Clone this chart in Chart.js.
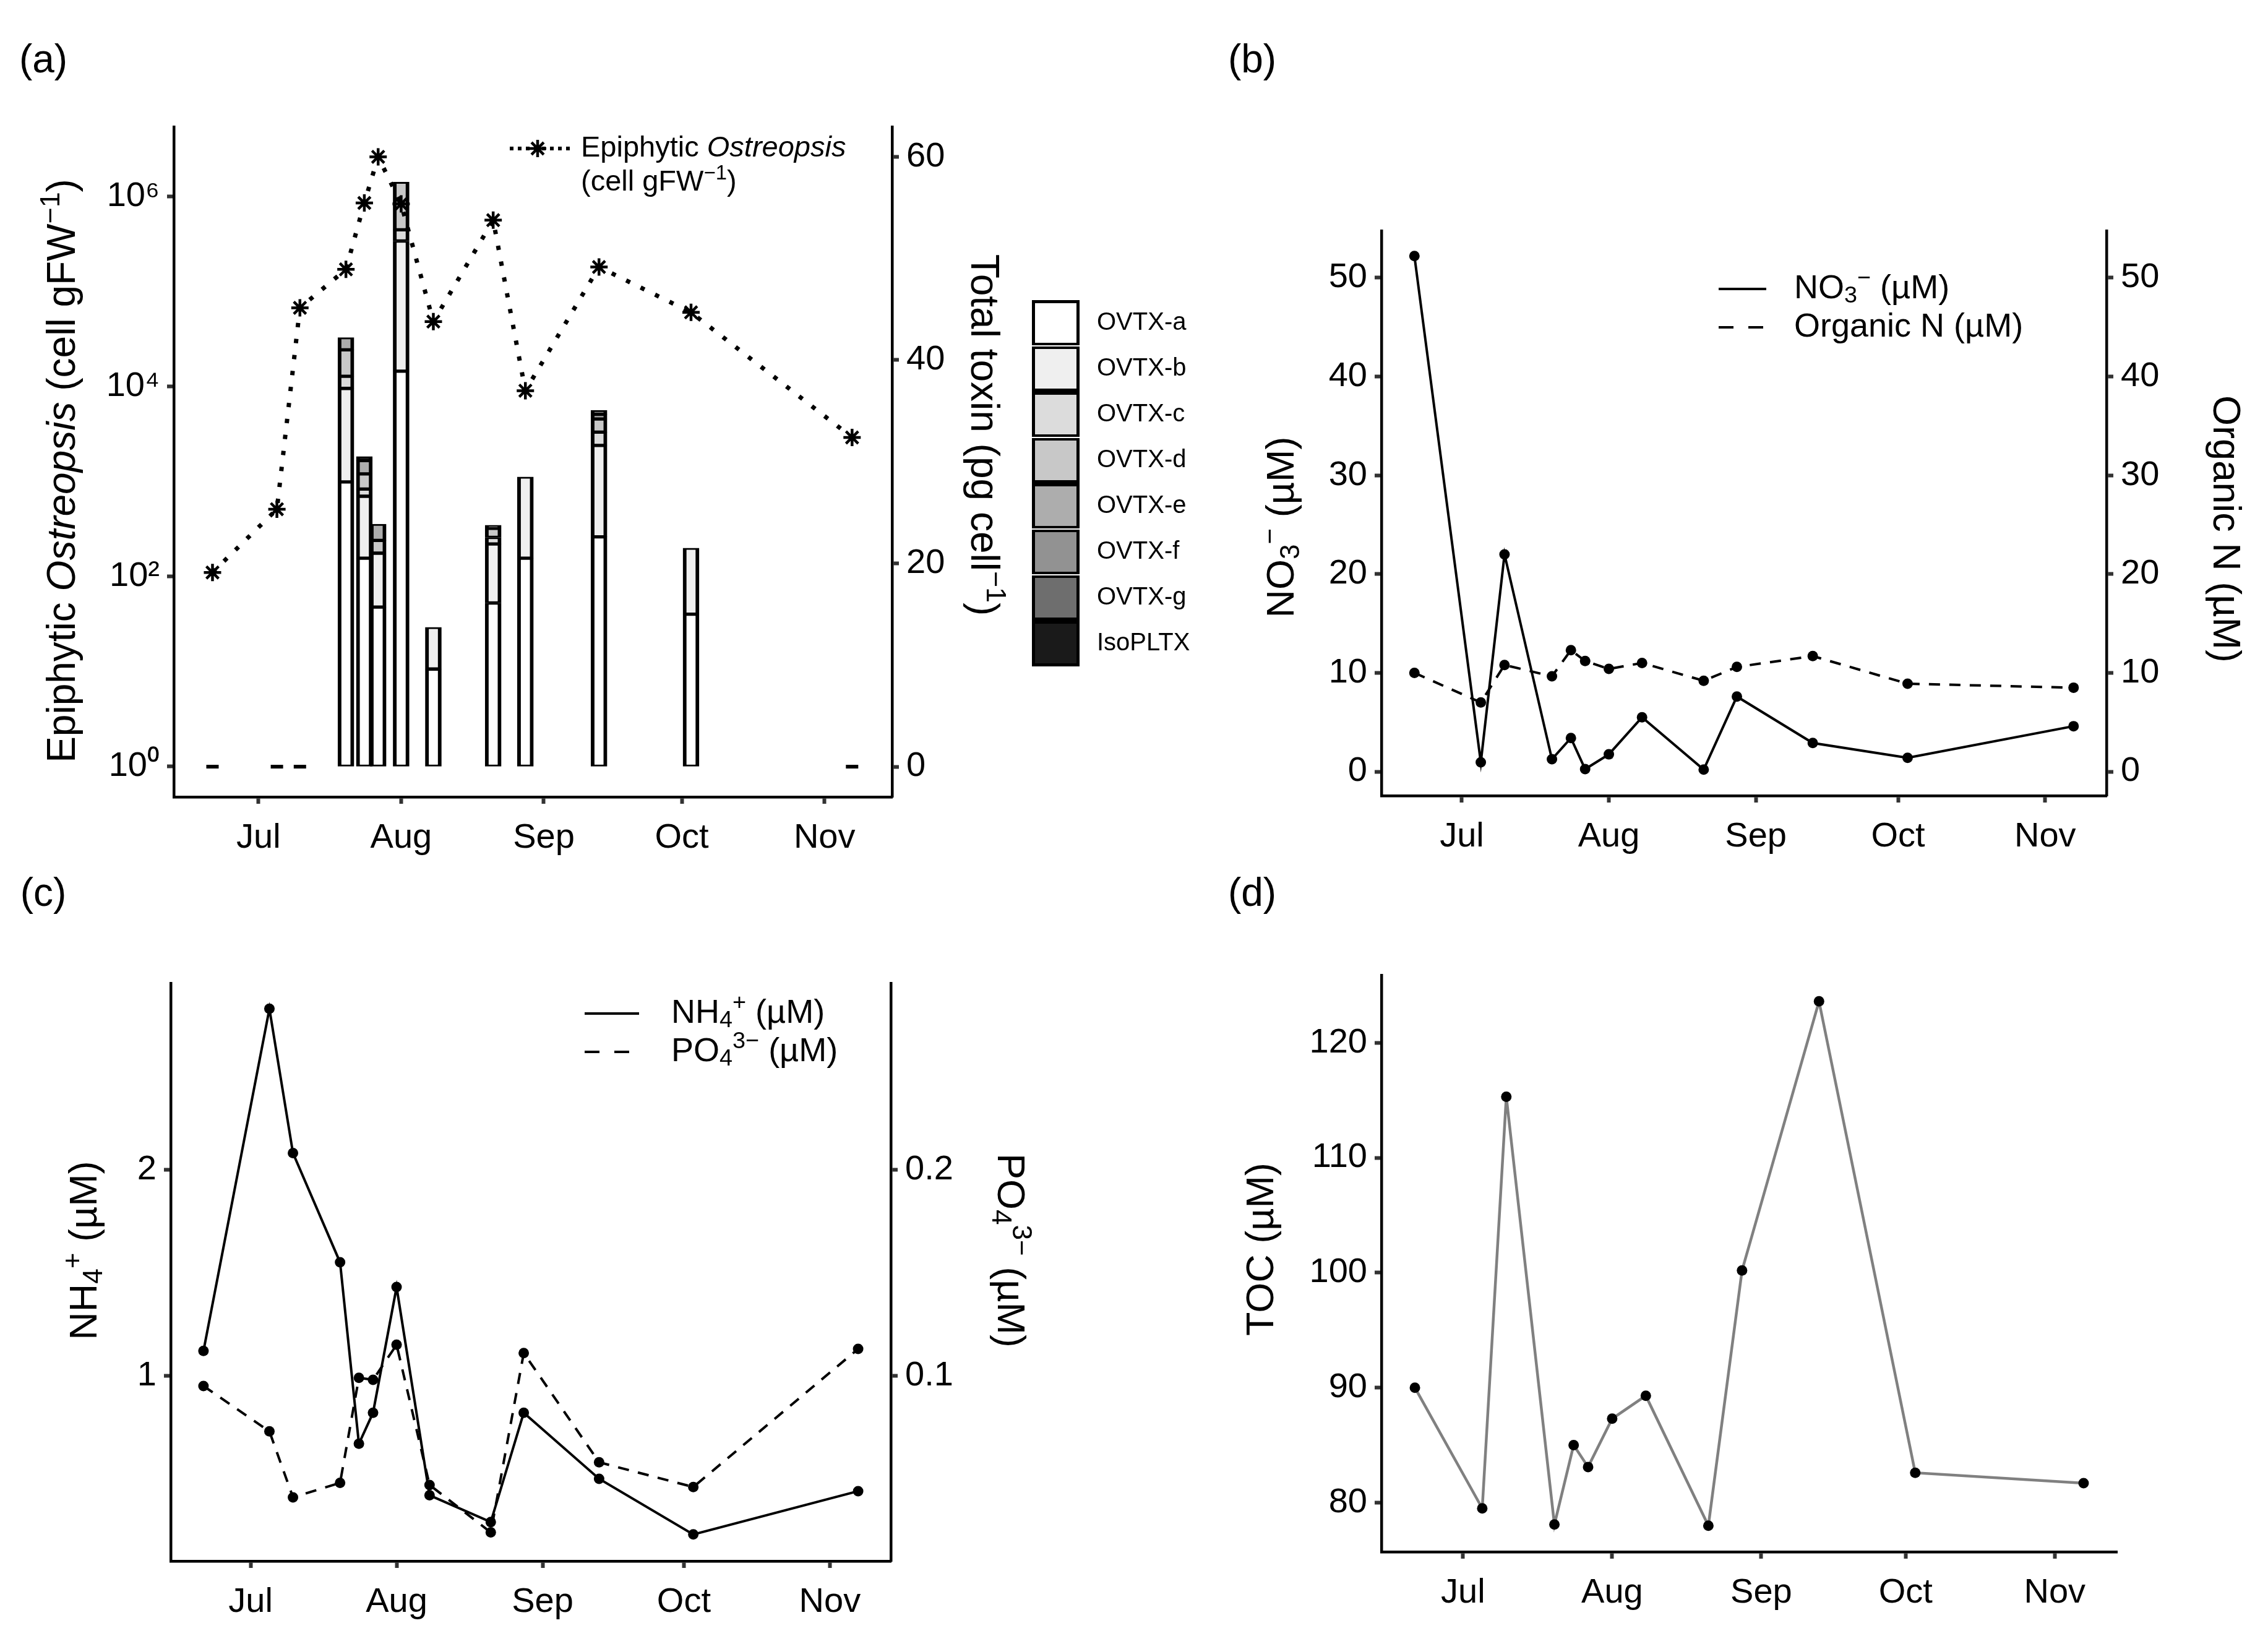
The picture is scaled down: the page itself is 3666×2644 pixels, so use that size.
<!DOCTYPE html>
<html>
<head>
<meta charset="utf-8">
<script src="https://cdn.jsdelivr.net/npm/chart.js@4.4.1/dist/chart.umd.min.js"></script>
<style>
  html, body { margin: 0; padding: 0; background: #fff; }
  body { position: relative; width: 3666px; height: 2644px; overflow: hidden; font-family: 'Liberation Sans', Arial, sans-serif; }
  canvas { position: absolute; }
  .tag { position: absolute; font-size: 64px; line-height: 1; transform: translate(-50%, -50%); color: #000; }
</style>
</head>
<body>
<div class="tag" style="left:70px;top:95px">(a)</div>
<div class="tag" style="left:2024px;top:95px">(b)</div>
<div class="tag" style="left:70px;top:1442px">(c)</div>
<div class="tag" style="left:2024px;top:1442px">(d)</div>
<canvas id="chartA" width="2000" height="1405" style="left:0;top:0;width:2000px;height:1405px"></canvas>
<canvas id="chartB" width="1666" height="1405" style="left:2000px;top:0;width:1666px;height:1405px"></canvas>
<canvas id="chartC" width="2000" height="1239" style="left:0;top:1405px;width:2000px;height:1239px"></canvas>
<canvas id="chartD" width="1666" height="1239" style="left:2000px;top:1405px;width:1666px;height:1239px"></canvas>
<script>
// sampling dates, as days counted from 1 July
const sampleDays = [-10, 4, 9, 19, 23, 26, 31, 38, 51, 58, 74, 94, 129];
const monthDays = [0, 31, 62, 92, 123];
const monthLabels = ['Jul', 'Aug', 'Sep', 'Oct', 'Nov'];

// (a) epiphytic Ostreopsis (cell gFW-1) and toxin profile (pg cell-1)
const ostreopsisCells = [110, 510, 67000, 170000, 850000, 2600000, 830000, 48000, 560000, 9000, 180000, 60000, 2900];
const toxinNames = ['OVTX-a', 'OVTX-b', 'OVTX-c', 'OVTX-d', 'OVTX-e', 'OVTX-f', 'OVTX-g', 'IsoPLTX'];
const ovtxA = [0, 0, 0, 28.0, 20.5, 15.7, 38.9, 9.6, 16.1, 20.5, 22.6, 15.0, 0];
const ovtxB = [0, 0, 0, 9.2, 6.1, 5.3, 12.8, 4.1, 5.8, 8.0, 9.0, 6.5, 0];
const ovtxC = [0, 0, 0, 1.2, 0.7, 0, 1.1, 0, 0.65, 0, 1.3, 0, 0];
const ovtxD = [0, 0, 0, 2.6, 1.5, 1.25, 4.7, 0, 0.9, 0, 1.3, 0, 0];
const ovtxE = [0, 0, 0, 1.2, 1.3, 1.6, 0, 0, 0.3, 0, 0.45, 0, 0];
const ovtxF = [0, 0, 0, 0, 0, 0, 0, 0, 0, 0, 0.4, 0, 0];
const ovtxG = [0, 0, 0, 0, 0, 0, 0, 0, 0, 0, 0, 0, 0];
const isoPLTX = [0, 0, 0, 0, 0.4, 0, 0, 0, 0, 0, 0, 0, 0];
const cellTicks = [1, 100, 10000, 1000000];
const toxinTicks = [0, 20, 40, 60];

// (b) nitrate and organic N (uM)
const nitrate = [52.2, 0.94, 22.0, 1.25, 3.4, 0.25, 1.75, 5.5, 0.2, 7.6, 2.9, 1.4, 4.6];
const organicN = [10.0, 7.0, 10.8, 9.65, 12.3, 11.2, 10.4, 11.0, 9.2, 10.6, 11.7, 8.9, 8.5];
const nTicks = [0, 10, 20, 30, 40, 50];

// (c) ammonium and phosphate (uM)
const ammonium = [1.12, 2.78, 2.08, 1.55, 0.67, 0.82, 1.43, 0.42, 0.29, 0.82, 0.50, 0.23, 0.44];
const phosphate = [0.095, 0.073, 0.041, 0.048, 0.099, 0.098, 0.115, 0.047, 0.024, 0.111, 0.058, 0.046, 0.113];
const nh4Ticks = [1, 2];
const po4Ticks = [0.1, 0.2];

// (d) TOC (uM)
const toc = [90.0, 79.5, 115.3, 78.1, 85.0, 83.1, 87.3, 89.3, 78.0, 100.2, 123.6, 82.6, 81.7];
const tocTicks = [80, 90, 100, 110, 120];

const toxinSeries = [ovtxA, ovtxB, ovtxC, ovtxD, ovtxE, ovtxF, ovtxG, isoPLTX];
const toxinColors = ['#ffffff', '#efefef', '#dcdcdc', '#c8c8c8', '#adadad', '#929292', '#6e6e6e', '#1a1a1a'];

const FONT = "'Liberation Sans', Arial, sans-serif";
Chart.defaults.font.family = FONT;
Chart.defaults.color = '#000';

function xy(days, vals) {
    return days.map((d, i) => ({ x: d, y: vals[i] }));
}
function useTicks(values) {
    return s => { s.ticks = values.map(v => ({ value: v })); };
}
const tickGrid = { display: true, offset: false, drawOnChartArea: false, drawTicks: true, tickLength: 11, tickWidth: 6, tickColor: '#333' };
const axisLine = { display: true, color: '#000', width: 4.5 };

function xAxis(min, max, height) {
    return {
        type: 'linear', position: 'bottom', min: min, max: max, offset: false, stacked: true,
        afterBuildTicks: useTicks(monthDays),
        afterFit: s => { s.height = height; },
        ticks: { autoSkip: false, maxRotation: 0, padding: 22, font: { size: 56 }, callback: (v, i) => monthLabels[i] },
        grid: tickGrid, border: axisLine
    };
}
function yAxis(position, min, max, tickValues, width, extra) {
    return Object.assign({
        type: 'linear', position: position, min: min, max: max,
        afterBuildTicks: useTicks(tickValues),
        afterFit: s => { s.width = width; },
        ticks: { autoSkip: false, padding: 12, font: { size: 56 }, callback: v => String(v) },
        grid: tickGrid, border: axisLine
    }, extra || {});
}
function baseOptions(top, padRight, scales) {
    return {
        responsive: false, animation: false, devicePixelRatio: 1,
        layout: { padding: { top: top, left: 0, right: padRight, bottom: 0 } },
        plugins: { legend: { display: false }, tooltip: { enabled: false } },
        scales: scales
    };
}

// text with italic / sub / sup runs, drawn centred or left aligned
function runFont(style, size) {
    const s = (style === 'sub' || style === 'sup') ? size * 0.7 : size;
    return (style === 'i' ? 'italic ' : '') + s + 'px ' + FONT;
}
function drawRuns(ctx, runs, x, y, size, rot, align) {
    ctx.save();
    ctx.translate(x, y);
    ctx.rotate(rot);
    ctx.textBaseline = 'middle';
    ctx.textAlign = 'left';
    ctx.fillStyle = '#000';
    const widths = runs.map(r => { ctx.font = runFont(r[1], size); return ctx.measureText(r[0]).width; });
    const total = widths.reduce((a, b) => a + b, 0);
    let cx = align === 'center' ? -total / 2 : 0;
    runs.forEach((r, i) => {
        ctx.font = runFont(r[1], size);
        const dy = r[1] === 'sub' ? size * 0.22 : (r[1] === 'sup' ? -size * 0.3 : 0);
        ctx.fillText(r[0], cx, dy);
        cx += widths[i];
    });
    ctx.restore();
}
function lineSample(ctx, x0, x1, y, dash, width) {
    ctx.save();
    ctx.strokeStyle = '#000';
    ctx.lineWidth = width;
    ctx.setLineDash(dash);
    ctx.beginPath();
    ctx.moveTo(x0, y);
    ctx.lineTo(x1, y);
    ctx.stroke();
    ctx.restore();
}
const UP = -Math.PI / 2, DOWN = Math.PI / 2;
const muM = [' (µM)', ''];
const dotR = 8.5;

// ---------- (a) ----------
const zeroDays = sampleDays.filter((d, i) => toxinSeries.every(s => s[i] === 0));
const toxinSets = toxinSeries.map((vals, k) => ({
    type: 'bar', label: toxinNames[k], yAxisID: 'yR', order: 1,
    data: xy(sampleDays, vals).filter(p => p.y > 0),
    backgroundColor: toxinColors[k], borderColor: '#000',
    borderWidth: { top: 3, bottom: 3, left: 6, right: 6 }, borderSkipped: false,
    barThickness: 26
}));

new Chart(document.getElementById('chartA'), {
    type: 'bar',
    data: {
        datasets: [{
            type: 'line', label: 'Epiphytic Ostreopsis', yAxisID: 'yL', order: 0,
            data: xy(sampleDays, ostreopsisCells),
            borderColor: '#000', borderWidth: 7, borderDash: [7, 19], borderCapStyle: 'butt',
            pointStyle: 'star', pointRadius: 14, pointBorderWidth: 4.5,
            pointBorderColor: '#000', pointBackgroundColor: '#000', tension: 0
        }, {
            type: 'line', label: 'no toxin', yAxisID: 'yR', order: 0,
            data: zeroDays.map(d => ({ x: d, y: 0 })), showLine: false,
            pointStyle: 'line', pointRadius: 10, pointBorderWidth: 6, pointBorderColor: '#000'
        }].concat(toxinSets)
    },
    options: baseOptions(205, 0, {
        x: xAxis(-18.4, 137.7, 1405 - 1288),
        yL: yAxis('left', Math.pow(10, -0.32), Math.pow(10, 6.73), cellTicks, 281, {
            type: 'logarithmic',
            ticks: { autoSkip: false, padding: 12, font: { size: 56 },
                callback: v => '10' + { 0: '⁰', 2: '²', 4: '⁴', 6: '⁶' }[Math.round(Math.log10(v))] }
        }),
        yR: yAxis('right', -2.98, 62.93, toxinTicks, 2000 - 1442, { stacked: true })
    }),
    plugins: [{
        id: 'decorA',
        afterDraw(chart) {
            const ctx = chart.ctx;
            drawRuns(ctx, [['Epiphytic ', ''], ['Ostreopsis', 'i'], [' (cell gFW', ''], ['−1', 'sup'], [')', '']], 103, 761, 64, UP, 'center');
            drawRuns(ctx, [['Total toxin (pg cell', ''], ['−1', 'sup'], [')', '']], 1588, 703, 64, DOWN, 'center');
            // series key
            lineSample(ctx, 824, 927, 240, [6, 7], 6);
            ctx.save();
            ctx.strokeStyle = '#000';
            ctx.lineWidth = 4.5;
            for (let a = 0; a < 4; a++) {
                const ang = a * Math.PI / 4;
                ctx.beginPath();
                ctx.moveTo(869 - 14 * Math.cos(ang), 240 - 14 * Math.sin(ang));
                ctx.lineTo(869 + 14 * Math.cos(ang), 240 + 14 * Math.sin(ang));
                ctx.stroke();
            }
            ctx.restore();
            drawRuns(ctx, [['Epiphytic ', ''], ['Ostreopsis', 'i']], 939, 240, 47, 0, 'left');
            drawRuns(ctx, [['(cell gFW', ''], ['−1', 'sup'], [')', '']], 939, 295, 47, 0, 'left');
            // toxin key
            const kx = 1668, ky = 485, kw = 77, kh = 74;
            toxinNames.forEach((name, k) => {
                const y0 = ky + k * kh;
                ctx.fillStyle = toxinColors[k];
                ctx.fillRect(kx, y0, kw, kh);
                ctx.strokeStyle = '#000';
                ctx.lineWidth = 5;
                ctx.strokeRect(kx + 2.5, y0 + 2.5, kw - 5, kh - 5);
                drawRuns(ctx, [[name, '']], 1773, y0 + kh / 2, 40, 0, 'left');
            });
            ctx.fillStyle = '#fff';
            [1, 3, 5, 6].forEach(k => ctx.fillRect(kx, ky + k * kh - 1, kw, 2));
        }
    }]
});

// ---------- (b) ----------
new Chart(document.getElementById('chartB'), {
    type: 'line',
    data: {
        datasets: [{
            label: 'NO3', yAxisID: 'yL', data: xy(sampleDays, nitrate),
            borderColor: '#000', borderWidth: 4, pointRadius: dotR, pointBorderWidth: 0,
            pointBackgroundColor: '#000', tension: 0
        }, {
            label: 'Organic N', yAxisID: 'yR', data: xy(sampleDays, organicN),
            borderColor: '#000', borderWidth: 4, borderDash: [18, 15], pointRadius: dotR, pointBorderWidth: 0,
            pointBackgroundColor: '#000', tension: 0
        }]
    },
    options: baseOptions(373, 0, {
        x: xAxis(-16.95, 135.95, 1405 - 1286),
        yL: yAxis('left', -2.44, 54.76, nTicks, 233),
        yR: yAxis('right', -2.44, 54.76, nTicks, 1666 - 1405)
    }),
    plugins: [{
        id: 'decorB',
        afterDraw(chart) {
            const ctx = chart.ctx;
            drawRuns(ctx, [['NO', ''], ['3', 'sub'], ['−', 'sup'], muM], 74, 852, 63, UP, 'center');
            drawRuns(ctx, [['Organic N', ''], muM], 1595, 855, 63, DOWN, 'center');
            lineSample(ctx, 778, 855, 467, [], 4);
            lineSample(ctx, 778, 855, 529, [24, 24], 4);
            drawRuns(ctx, [['NO', ''], ['3', 'sub'], ['−', 'sup'], muM], 900, 467, 54, 0, 'left');
            drawRuns(ctx, [['Organic N', ''], muM], 900, 529, 54, 0, 'left');
        }
    }]
});

// ---------- (c) ----------
new Chart(document.getElementById('chartC'), {
    type: 'line',
    data: {
        datasets: [{
            label: 'NH4', yAxisID: 'yL', data: xy(sampleDays, ammonium),
            borderColor: '#000', borderWidth: 4, pointRadius: dotR, pointBorderWidth: 0,
            pointBackgroundColor: '#000', tension: 0
        }, {
            label: 'PO4', yAxisID: 'yR', data: xy(sampleDays, phosphate),
            borderColor: '#000', borderWidth: 4, borderDash: [18, 15], pointRadius: dotR, pointBorderWidth: 0,
            pointBackgroundColor: '#000', tension: 0
        }]
    },
    options: baseOptions(184, 0, {
        x: xAxis(-16.95, 135.95, 1239 - 1118),
        yL: yAxis('left', 0.1005, 2.904, nh4Ticks, 276),
        yR: yAxis('right', 0.01005, 0.2904, po4Ticks, 2000 - 1440)
    }),
    plugins: [{
        id: 'decorC',
        afterDraw(chart) {
            const ctx = chart.ctx;
            drawRuns(ctx, [['NH', ''], ['4', 'sub'], ['+', 'sup'], muM], 139, 616, 63, UP, 'center');
            drawRuns(ctx, [['PO', ''], ['4', 'sub'], ['3−', 'sup'], muM], 1630, 616, 63, DOWN, 'center');
            lineSample(ctx, 945, 1033, 233, [], 4);
            lineSample(ctx, 945, 1033, 295, [24, 24], 4);
            drawRuns(ctx, [['NH', ''], ['4', 'sub'], ['+', 'sup'], muM], 1085, 233, 54, 0, 'left');
            drawRuns(ctx, [['PO', ''], ['4', 'sub'], ['3−', 'sup'], muM], 1085, 295, 54, 0, 'left');
        }
    }]
});

// ---------- (d) ----------
new Chart(document.getElementById('chartD'), {
    type: 'line',
    data: {
        datasets: [{
            label: 'TOC', yAxisID: 'yL', data: xy(sampleDays, toc),
            borderColor: '#808080', borderWidth: 4.5, pointRadius: dotR, pointBorderWidth: 0,
            pointBackgroundColor: '#000', tension: 0
        }]
    },
    options: baseOptions(171, 1666 - 1422, {
        x: xAxis(-16.95, 135.95, 1239 - 1103),
        yL: yAxis('left', 75.72, 125.88, tocTicks, 233)
    }),
    plugins: [{
        id: 'decorD',
        afterDraw(chart) {
            drawRuns(chart.ctx, [['TOC', ''], muM], 41, 614, 63, UP, 'center');
        }
    }]
});
</script>
</body>
</html>
